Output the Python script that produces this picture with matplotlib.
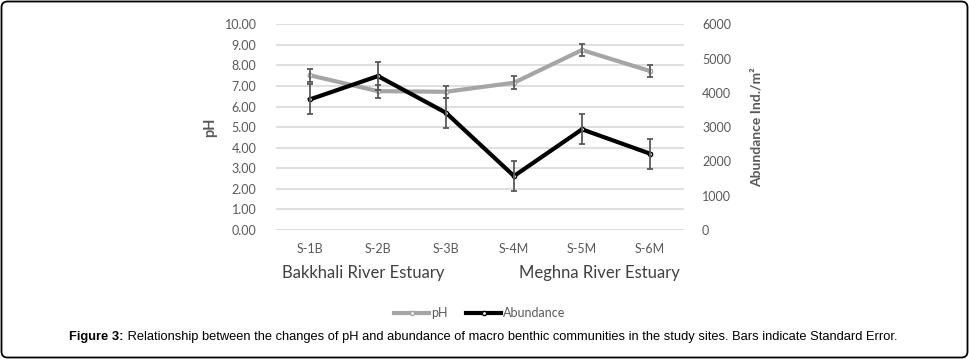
import numpy as np
import matplotlib
matplotlib.use("Agg")
from matplotlib import pyplot as plt
from matplotlib.patches import FancyBboxPatch
from matplotlib.transforms import IdentityTransform

sites = ["S-1B", "S-2B", "S-3B", "S-4M", "S-5M", "S-6M"]
regions = ["Bakkhali River Estuary", "Meghna River Estuary"]
ph = [7.52, 6.75, 6.72, 7.16, 8.75, 7.73]
ph_se = [0.32, 0.31, 0.30, 0.31, 0.29, 0.31]
abundance = [3810, 4490, 3420, 1575, 2937, 2227]
abundance_se = [440, 420, 437, 428, 438, 437]

plt.rcParams["font.family"] = ["Lato", "DejaVu Sans"]
TXT = "#595959"

fig = plt.figure(figsize=(9.69, 3.59), dpi=100)
ax = fig.add_axes([0.2848, 0.3593, 0.4211, 0.5730])
ax2 = ax.twinx()

x = np.arange(len(sites))

ax.plot(x, ph, color="#A5A5A5", lw=3, marker="o", ms=3, mfc="white", mec="#A5A5A5",
        solid_joinstyle="round", zorder=3, label="pH")
ax.errorbar(x, ph, yerr=ph_se, fmt="none", ecolor=TXT, elinewidth=1.3, capsize=2.5,
            capthick=1.3, zorder=4)

ax2.plot(x, abundance, color="black", lw=3, marker="o", ms=3, mfc="white", mec="black",
         solid_joinstyle="round", zorder=3, label="Abundance")
ax2.errorbar(x, abundance, yerr=abundance_se, fmt="none", ecolor=TXT, elinewidth=1.3,
             capsize=2.5, capthick=1.3, zorder=4)

ax.set_xlim(-0.5, len(sites) - 0.5)
ax.set_ylim(0, 10)
ax2.set_ylim(0, 6000)
ax.set_yticks(np.arange(0, 11, 1))
ax.set_yticklabels([f"{v:.2f}" for v in np.arange(0, 11, 1)])
ax2.set_yticks(np.arange(0, 6001, 1000))
ax.set_xticks(x)
ax.set_xticklabels(sites)

ax.grid(axis="y", color="#D9D9D9", lw=1.2)
ax.set_axisbelow(True)
for a in (ax, ax2):
    for s in a.spines.values():
        s.set_visible(False)
    a.tick_params(length=0, labelsize=9, labelcolor=TXT)
ax.tick_params(axis="y", pad=14)
ax2.tick_params(axis="y", pad=13)
ax.tick_params(axis="x", pad=9)

ax.set_ylabel("pH", fontsize=10.5, fontweight="bold", color=TXT, labelpad=5)
ax2.set_ylabel("Abundance Ind./m²", fontsize=10, fontweight="bold", color=TXT, labelpad=14)

ax.text(0.015, -0.208, regions[0], transform=ax.transAxes, ha="left", va="center",
        fontsize=12, color="#404040")
ax.text(0.99, -0.208, regions[1], transform=ax.transAxes, ha="right", va="center",
        fontsize=12, color="#404040")

h1, l1 = ax.get_legend_handles_labels()
h2, l2 = ax2.get_legend_handles_labels()
fig.legend(h1 + h2, l1 + l2, loc="center", bbox_to_anchor=(480 / 969, 1 - 313 / 359),
           ncol=2, frameon=False, fontsize=9, labelcolor=TXT, handlelength=2.8,
           handletextpad=0.15, columnspacing=1.5)

# caption: bold prefix + normal text
cap = fig.text(69 / 969, 1 - 337 / 359, "Figure 3:", fontsize=9.3, fontweight="bold",
               family="Liberation Sans", va="center", ha="left")
ax.annotate(" Relationship between the changes of pH and abundance of macro benthic "
            "communities in the study sites. Bars indicate Standard Error.",
            xy=(1, 0.5), xycoords=cap, va="center", ha="left", fontsize=9.3,
            family="Liberation Sans", annotation_clip=False)

border = FancyBboxPatch((1.5, 1.5), 966, 356, boxstyle="round,pad=0,rounding_size=6",
                        transform=IdentityTransform(), fill=False, ec="black", lw=1.3)
fig.add_artist(border)

fig.savefig("out.png", dpi=100)
